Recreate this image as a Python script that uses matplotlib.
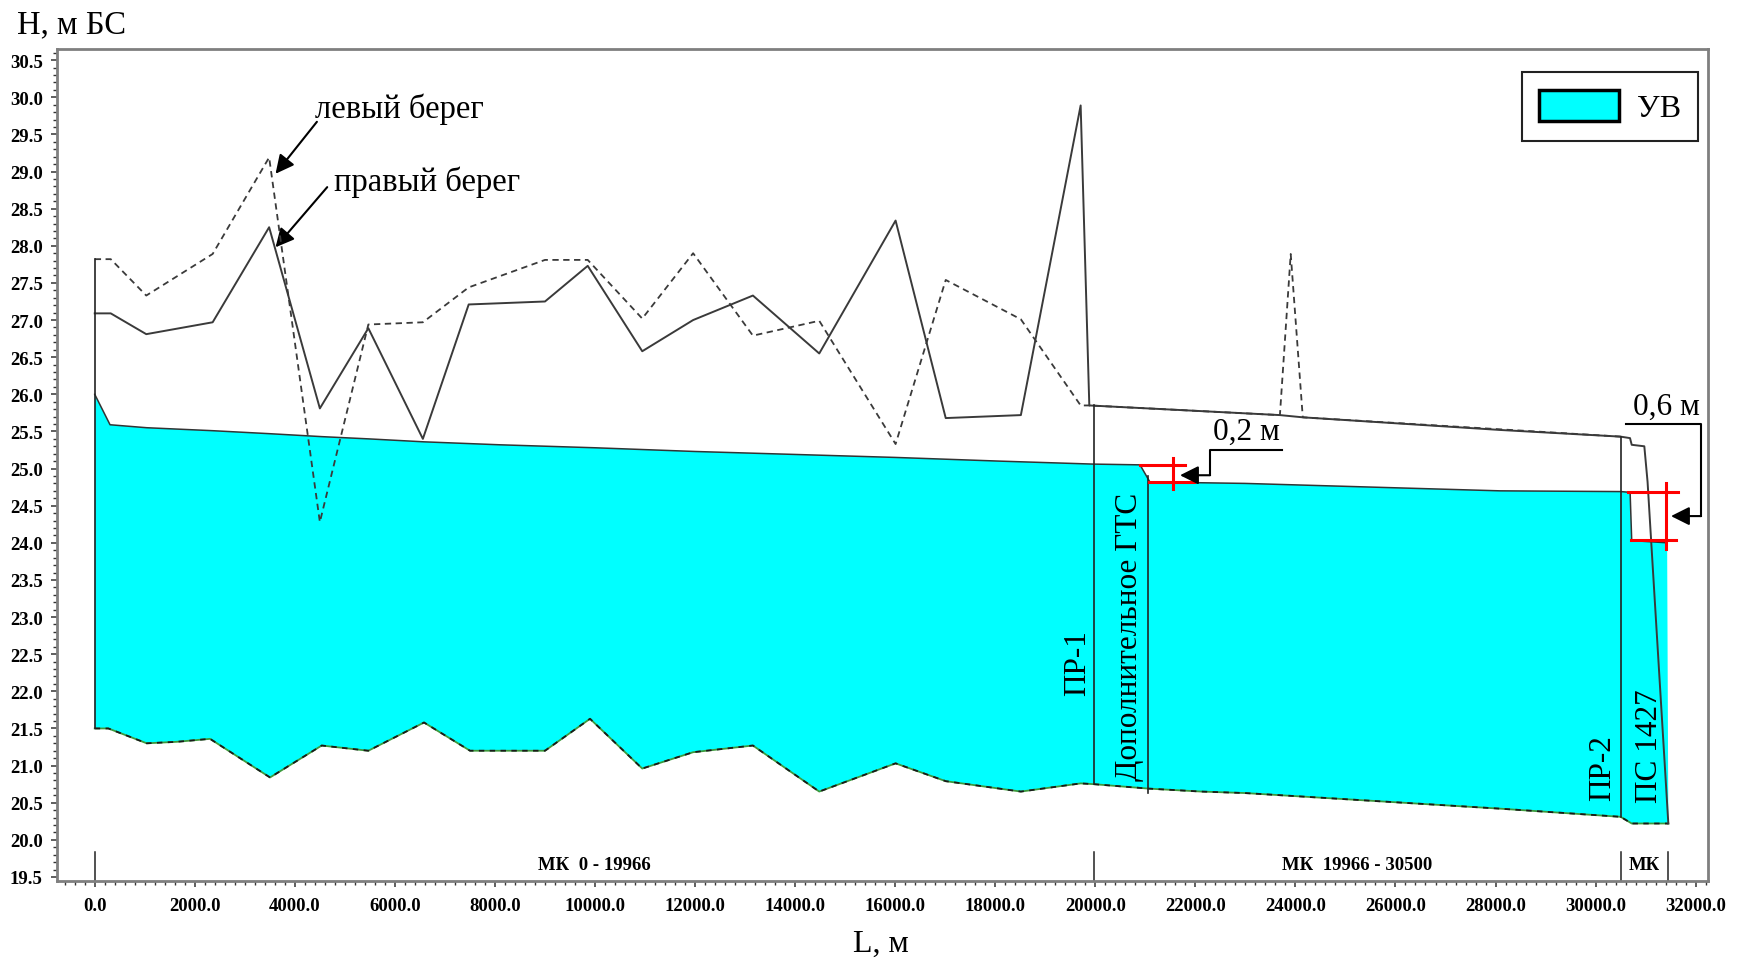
import matplotlib
matplotlib.use("Agg")
import numpy as np
import matplotlib.pyplot as plt
from matplotlib.patches import Patch
from matplotlib.ticker import MultipleLocator, FormatStrFormatter

plt.rcParams['font.family'] = ['Liberation Serif', 'DejaVu Serif']

# --- продольный профиль, L в метрах, H в м БС ---
L_bed = [0, 272, 1039, 1639, 2305, 3504, 4537, 5469, 6582, 7502, 9000, 9900,
         10944, 11961, 13156, 14482, 16008, 17010, 18512, 19707, 19966, 21060,
         22120, 22993, 28088, 30500, 30722, 31454]
H_bed = [21.50, 21.50, 21.30, 21.32, 21.36, 20.84, 21.27, 21.20, 21.58, 21.20, 21.20, 21.63,
         20.96, 21.18, 21.27, 20.65, 21.03, 20.79, 20.65, 20.76, 20.75, 20.69,
         20.65, 20.63, 20.42, 20.31, 20.22, 20.22]

L_ws = [0, 306, 1039, 2357, 3486, 4537, 5469, 6582, 8101, 10000, 12000, 14000,
        16000, 18096, 19966, 20894, 21090, 22000, 22993, 28088, 30500, 30690,
        30722, 31430]
H_ws = [26.00, 25.59, 25.55, 25.51, 25.47, 25.43, 25.40, 25.36, 25.32, 25.28, 25.23, 25.19,
        25.15, 25.10, 25.06, 25.05, 24.82, 24.81, 24.80, 24.70, 24.69, 24.68,
        24.03, 24.00]

# правый берег
L_right = [0, 320, 1030, 2357, 3486, 4500, 5469, 6559, 7475, 9000, 9854, 10944,
           11961, 13156, 14482, 16008, 17010, 18512, 19707, 19880, 23690, 24147,
           28088, 30500, 30688, 30722, 30974, 31039, 31454]
H_right = [27.09, 27.09, 26.81, 26.97, 28.25, 25.81, 26.89, 25.40, 27.21, 27.25, 27.73, 26.58,
           27.00, 27.33, 26.55, 28.34, 25.68, 25.72, 29.89, 25.85, 25.72, 25.69,
           25.52, 25.43, 25.41, 25.32, 25.30, 24.82, 20.22]

# левый берег
L_left = [0, 320, 1030, 2357, 3486, 4500, 5469, 6559, 7475, 9000, 9854, 10944,
          11961, 13156, 14482, 16008, 17010, 18512, 19707, 19880, 23690, 23906,
          24147, 30500]
H_left = [27.82, 27.82, 27.33, 27.89, 29.19, 24.28, 26.94, 26.97, 27.44, 27.81, 27.81, 27.02,
          27.90, 26.79, 26.99, 25.33, 27.54, 27.01, 25.85, 25.85, 25.72, 27.89,
          25.69, 25.43]

# створы
sect_L = [0, 19966, 21060, 30500]
sect_bot = [21.50, 20.75, 20.63, 20.31]
sect_top = [27.82, 25.85, 24.90, 25.43]

# перепады уровня
drop_L = [21560, 31400]
drop_up = [25.05, 24.68]
drop_down = [24.82, 24.04]

# участки МК
reach_bounds = [0, 19966, 30500, 31454]
reach_names = ["МК  0 - 19966", "МК  19966 - 30500", "МК"]

fig = plt.figure(figsize=(17.45, 9.62), dpi=100)
ax = fig.add_axes([0.0325, 0.0835, 0.9461, 0.8645])

poly_x = list(L_ws) + list(L_bed[::-1])
poly_y = list(H_ws) + list(H_bed[::-1])
ax.fill(poly_x, poly_y, color='#00ffff', lw=0, zorder=1)

ax.plot(L_bed, H_bed, color='#3c9a3c', lw=1.3, zorder=2)
ax.plot(L_bed, H_bed, color='#1a1a1a', lw=1.3, ls=(0, (3, 3)), zorder=3)
ax.plot(L_ws, H_ws, color='#333333', lw=1.1, zorder=3)

ax.plot(L_left, H_left, color='#3a3a3a', lw=1.3, ls=(0, (3.5, 2.5)), zorder=4)
ax.plot(L_right, H_right, color='#3a3a3a', lw=1.4, zorder=5)

for x, b, t in zip(sect_L, sect_bot, sect_top):
    ax.plot([x, x], [b, t], color='#222222', lw=1.2, zorder=5)

txt = dict(fontsize=22.5, color='black')
ax.text(19641, 21.95, "ПР-1", rotation=90, ha='center', va='bottom', zorder=7, **txt)
ax.text(20674, 20.80, "Дополнительное ГТС", rotation=90, ha='center', va='bottom', zorder=7, **txt)
ax.text(30134, 20.54, "ПР-2", rotation=90, ha='center', va='bottom', zorder=7, **txt)
ax.text(31074, 20.51, "ПС 1427", rotation=90, ha='center', va='bottom', zorder=7, **txt)

# красные отметки перепадов
spans = [((666, 233), (487, 420), 0.09), ((760, 253), (693, 200), 0.13)]
for x, up, dn, (top_s, bot_s, ext) in zip(drop_L, drop_up, drop_down, spans):
    ax.plot([x - top_s[0], x + top_s[1]], [up, up], color='red', lw=2.2, zorder=6)
    ax.plot([x - bot_s[0], x + bot_s[1]], [dn, dn], color='red', lw=2.2, zorder=6)
    ax.plot([x, x], [dn - ext, up + ext], color='red', lw=2.2, zorder=6)

arrow = dict(arrowstyle='-|>', color='black', lw=1.5, mutation_scale=28,
             shrinkA=0, shrinkB=0)

# 0,2 м
d1 = drop_up[0] - drop_down[0]
ax.text(23026, 25.40, f"{d1:.1f}".replace('.', ',') + " м", ha='center', va='baseline', zorder=7, **txt)
ax.plot([23726, 22293, 22293], [25.25, 25.25, 24.91], color='black', lw=1.5, zorder=7)
ax.annotate('', xy=(21693, 24.91), xytext=(22293, 24.91), arrowprops=arrow, zorder=7)

# 0,6 м
d2 = drop_up[1] - drop_down[1]
ax.text(31422, 25.74, f"{d2:.1f}".replace('.', ',') + " м", ha='center', va='baseline', zorder=7, **txt)
ax.plot([30608, 32106, 32106], [25.60, 25.60, 24.36], color='black', lw=1.5, zorder=7)
ax.annotate('', xy=(31507, 24.36), xytext=(32106, 24.36), arrowprops=arrow, zorder=7)

# подписи берегов
bank_txt = dict(fontsize=23.5, color='black', ha='left', va='baseline')
ax.text(4395, 29.73, "левый берег", **bank_txt)
ax.text(4783, 28.75, "правый берег", **bank_txt)
ax.annotate('', xy=(3614, 28.97), xytext=(4441, 29.67), arrowprops=arrow)
ax.annotate('', xy=(3614, 27.98), xytext=(4647, 28.79), arrowprops=arrow)

# участки по низу
for x in reach_bounds:
    ax.plot([x, x], [19.45, 19.84], color='#222222', lw=1.1)
for a, b, name in zip(reach_bounds[:-1], reach_bounds[1:], reach_names):
    ax.text((a + b) / 2, 19.67, name, ha='center', va='center',
            fontsize=13.5, fontweight='bold')

ax.set_xlim(-760, 32240)
ax.set_ylim(19.45, 30.65)
ax.xaxis.set_major_locator(MultipleLocator(2000))
ax.xaxis.set_minor_locator(MultipleLocator(200))
ax.yaxis.set_major_locator(MultipleLocator(0.5))
ax.yaxis.set_minor_locator(MultipleLocator(0.1))
ax.xaxis.set_major_formatter(FormatStrFormatter('%.1f'))
ax.yaxis.set_major_formatter(FormatStrFormatter('%.1f'))
ax.tick_params(which='major', direction='out', length=4.5, width=1.1, color='#333333',
               labelsize=13.5)
ax.tick_params(which='minor', direction='out', length=2.8, width=1.0, color='#333333')
ax.tick_params(axis='x', which='major', pad=7)
ax.tick_params(axis='y', which='major', pad=5.5)
for lab in ax.get_xticklabels() + ax.get_yticklabels():
    lab.set_fontweight('bold')
for sp in ax.spines.values():
    sp.set_color('#7f7f7f')
    sp.set_linewidth(2)

leg = ax.legend(handles=[Patch(facecolor='#00ffff', edgecolor='black', linewidth=2.5, label='УВ')],
                loc='upper right', bbox_to_anchor=(0.9943, 0.972), borderaxespad=0,
                prop={'size': 23}, handlelength=2.5, handleheight=1.1, borderpad=0.55,
                handletextpad=0.55, fancybox=False, framealpha=1, edgecolor='#222222')
leg.get_frame().set_linewidth(1.5)

fig.text(0.0097, 0.9657, "H, м БС", fontsize=23.5, ha='left', va='baseline')
fig.text(0.505, 0.0104, "L, м", fontsize=23, ha='center', va='baseline')

fig.savefig("out.png", dpi=100)
